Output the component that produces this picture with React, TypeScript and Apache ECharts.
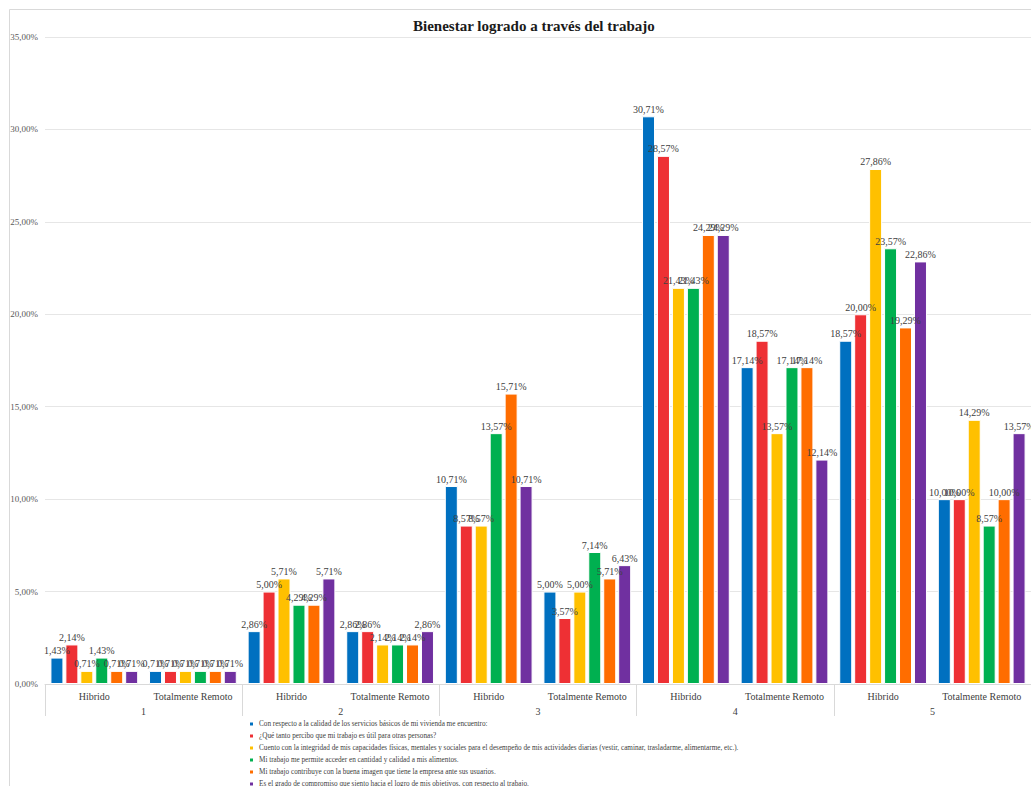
import React, { useEffect, useRef } from "react";
import * as echarts from "echarts";

const levelLabels = ["1", "2", "3", "4", "5"];
const modeLabels = ["Hibrido", "Totalmente Remoto"];
const categories = levelLabels.flatMap(() => modeLabels);

const seriesNames = [
  "Con respecto a la calidad de los servicios básicos de mi vivienda me encuentro:",
  "¿Qué tanto percibo que mi trabajo es útil para otras personas?",
  "Cuento con la integridad de mis capacidades físicas, mentales y sociales para el desempeño de mis actividades diarias (vestir, caminar, trasladarme, alimentarme, etc.).",
  "Mi trabajo me permite acceder en cantidad y calidad a mis alimentos.",
  "Mi trabajo contribuye con la buena imagen que tiene la empresa ante sus usuarios.",
  "Es el grado de compromiso que siento hacia el logro de mis objetivos, con respecto al trabajo.",
];

// percentages per category: 1-Hibrido, 1-Remoto, 2-Hibrido, ... 5-Remoto
const serviciosBasicos = [1.43, 0.71, 2.86, 2.86, 10.71, 5.0, 30.71, 17.14, 18.57, 10.0];
const trabajoUtil = [2.14, 0.71, 5.0, 2.86, 8.57, 3.57, 28.57, 18.57, 20.0, 10.0];
const integridadCapacidades = [0.71, 0.71, 5.71, 2.14, 8.57, 5.0, 21.43, 13.57, 27.86, 14.29];
const accesoAlimentos = [1.43, 0.71, 4.29, 2.14, 13.57, 7.14, 21.43, 17.14, 23.57, 8.57];
const imagenEmpresa = [0.71, 0.71, 4.29, 2.14, 15.71, 5.71, 24.29, 17.14, 19.29, 10.0];
const compromisoObjetivos = [0.71, 0.71, 5.71, 2.86, 10.71, 6.43, 24.29, 12.14, 22.86, 13.57];

const seriesData = [
  serviciosBasicos,
  trabajoUtil,
  integridadCapacidades,
  accesoAlimentos,
  imagenEmpresa,
  compromisoObjetivos,
];

const colors = ["#0070C0", "#EE3034", "#FFC000", "#00B050", "#FF6D00", "#7030A0"];

const yTicks = [0, 5, 10, 15, 20, 25, 30, 35];

const pct = (v: number) => v.toFixed(2).replace(".", ",") + "%";

const FONT = "'Liberation Serif', 'Times New Roman', serif";

export default function App() {
  const ref = useRef<HTMLDivElement>(null);

  useEffect(() => {
    if (!ref.current) return;
    const chart = echarts.init(ref.current, undefined, { renderer: "svg" });
    chart.setOption({
      animation: false,
      backgroundColor: "#ffffff",
      textStyle: { fontFamily: FONT },
      title: {
        text: "Bienestar logrado a través del trabajo",
        left: 408,
        top: 13,
        textStyle: { fontFamily: FONT, fontSize: 15, fontWeight: "bold", color: "#1a1a1a" },
      },
      graphic: [
        {
          type: "rect",
          shape: { x: 9.5, y: 9.5, width: 1040, height: 800 },
          style: { fill: "none", stroke: "#d9d9d9", lineWidth: 1 },
          silent: true,
        },
      ],
      legend: {
        orient: "vertical",
        left: 243,
        top: 715,
        height: 140,
        itemWidth: 5,
        itemHeight: 5,
        itemGap: 4,
        icon: "rect",
        data: seriesNames,
        textStyle: { fontFamily: FONT, fontSize: 7.2, lineHeight: 8, color: "#404040" },
      },
      grid: { left: 45, right: -8, top: 37, bottom: 102, containLabel: false },
      xAxis: [
        {
          type: "category",
          data: categories,
          axisLine: { show: true, lineStyle: { color: "#d9d9d9" } },
          axisTick: { show: false },
          axisLabel: { margin: 7, fontSize: 10, color: "#404040", fontFamily: FONT, interval: 0 },
        },
        {
          type: "category",
          data: levelLabels,
          position: "bottom",
          axisLine: { show: false },
          axisTick: { show: true, length: 32, interval: 0, lineStyle: { color: "#d9d9d9" } },
          axisLabel: { margin: 22, fontSize: 10, color: "#404040", fontFamily: FONT, interval: 0 },
        },
      ],
      yAxis: {
        type: "value",
        min: 0,
        max: yTicks[yTicks.length - 1],
        interval: 5,
        axisLine: { show: false },
        axisTick: { show: false },
        splitLine: { lineStyle: { color: "#e6e6e6" } },
        axisLabel: { formatter: (v: number) => pct(v), fontSize: 9, color: "#595959", margin: 7, fontFamily: FONT },
      },
      series: seriesNames.map((name, i) => ({
        name,
        type: "bar",
        xAxisIndex: 0,
        data: seriesData[i],
        barWidth: 13,
        barGap: "15%",
        itemStyle: { color: colors[i], borderColor: "#ffffff", borderWidth: 1 },
        label: {
          show: true,
          position: "top",
          distance: 2,
          formatter: (p: any) => pct(p.value),
          fontSize: 10,
          color: "#404040",
          fontFamily: FONT,
        },
      })),
    });
    return () => chart.dispose();
  }, []);

  return (
    <div
      ref={ref}
      style={{ position: "fixed", left: 0, top: 0, width: 1031, height: 786, overflow: "hidden" }}
    />
  );
}
